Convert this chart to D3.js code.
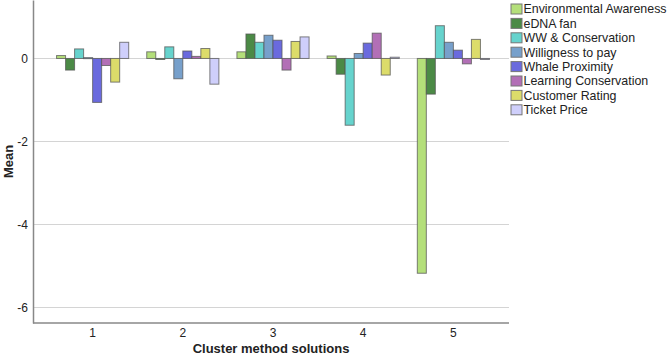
<!DOCTYPE html>
<html>
<head>
<meta charset="utf-8">
<script src="https://cdn.jsdelivr.net/npm/d3@7"></script>
<style>
  body { margin: 0; background: #fff; }
  svg { display: block; font-family: "Liberation Sans", Arial, sans-serif; }
</style>
</head>
<body>
<svg id="chart" width="669" height="358"></svg>
<script>
// clusters on the x axis
const clusters = ["1", "2", "3", "4", "5"];

const series = ["Environmental Awareness", "eDNA fan", "WW & Conservation", "Willigness to pay",
                "Whale Proximity", "Learning Conservation", "Customer Rating", "Ticket Price"];

const colors = ["#b4df7a", "#4b8a46", "#66d3cd", "#77a0cb", "#6a6ade", "#b26fb6", "#dcdc6a", "#cfcffb"];

// mean per series, one value per cluster
const envAwareness   = [0.07, 0.16, 0.16, 0.06, -5.18];
const ednaFan        = [-0.28, -0.02, 0.59, -0.38, -0.86];
const wwConservation = [0.23, 0.28, 0.39, -1.61, 0.79];
const willingness    = [0.02, -0.49, 0.56, 0.12, 0.39];
const whaleProximity = [-1.06, 0.18, 0.44, 0.37, 0.20];
const learningCons   = [-0.17, 0.05, -0.28, 0.61, -0.13];
const customerRating = [-0.57, 0.24, 0.41, -0.40, 0.46];
const ticketPrice    = [0.39, -0.62, 0.52, 0.03, -0.02];

const yTicks = [0, -2, -4, -6];

const values = [envAwareness, ednaFan, wwConservation, willingness,
                whaleProximity, learningCons, customerRating, ticketPrice];

const svg = d3.select("#chart");

const mLeft = 33, mRight = 509, mTop = 0, mBottom = 323;

const x0 = d3.scaleBand()
    .domain(clusters)
    .range([mLeft + 1, mRight + 3])
    .paddingInner(0.2)
    .paddingOuter(0.25);

const x1 = d3.scaleBand()
    .domain(series)
    .range([0, x0.bandwidth()])
    .padding(0);

const y = d3.scaleLinear()
    .domain([-6.38, 1.41])
    .range([mBottom, mTop]);

const color = d3.scaleOrdinal().domain(series).range(colors);

// gridlines
svg.append("g")
    .selectAll("line")
    .data(yTicks)
    .join("line")
    .attr("x1", mLeft)
    .attr("x2", mRight)
    .attr("y1", d => Math.round(y(d)) + 0.5)
    .attr("y2", d => Math.round(y(d)) + 0.5)
    .attr("stroke", "#d4d4d4")
    .attr("stroke-width", 1);

// bars
const rows = [];
clusters.forEach((c, i) => {
    series.forEach((s, j) => {
        rows.push({cluster: c, series: s, value: values[j][i]});
    });
});

svg.append("g")
    .selectAll("rect")
    .data(rows)
    .join("rect")
    .attr("x", d => x0(d.cluster) + x1(d.series))
    .attr("y", d => y(Math.max(0, d.value)))
    .attr("width", x1.bandwidth())
    .attr("height", d => Math.max(1, Math.abs(y(d.value) - y(0))))
    .attr("fill", d => color(d.series))
    .attr("stroke", "#555")
    .attr("stroke-opacity", 0.75)
    .attr("stroke-width", 1);

// axes
const yAxis = svg.append("g")
    .attr("transform", `translate(${mLeft},0)`)
    .call(d3.axisLeft(y).tickValues(yTicks).tickFormat(d => String(d)).tickSize(0).tickPadding(5));
yAxis.select(".domain").attr("stroke", "#888").attr("stroke-width", 1.5);
yAxis.selectAll("text").attr("font-size", 12).attr("fill", "#222")
    .attr("font-family", "Liberation Sans, Arial, sans-serif");

const xAxis = svg.append("g")
    .attr("transform", `translate(0,${mBottom})`)
    .call(d3.axisBottom(x0).tickSize(0).tickPadding(5));
xAxis.select(".domain").attr("d", `M${mLeft},0H${mRight}`).attr("stroke", "#888").attr("stroke-width", 1.5);
xAxis.selectAll("text").attr("font-size", 12).attr("fill", "#222")
    .attr("font-family", "Liberation Sans, Arial, sans-serif");

// axis titles
svg.append("text")
    .attr("x", (mLeft + mRight) / 2)
    .attr("y", 353)
    .attr("text-anchor", "middle")
    .attr("font-size", 13)
    .attr("font-weight", "bold")
    .attr("fill", "#222")
    .text("Cluster method solutions");

svg.append("text")
    .attr("transform", `translate(13,${(mTop + mBottom) / 2}) rotate(-90)`)
    .attr("text-anchor", "middle")
    .attr("font-size", 13)
    .attr("font-weight", "bold")
    .attr("fill", "#222")
    .text("Mean");

// legend
const legend = svg.append("g")
    .attr("transform", "translate(511,4)")
    .selectAll("g")
    .data(series)
    .join("g")
    .attr("transform", (d, i) => `translate(0,${i * 14.4})`);

legend.append("rect")
    .attr("width", 11)
    .attr("height", 10)
    .attr("fill", d => color(d))
    .attr("stroke", "#777")
    .attr("stroke-width", 1);

legend.append("text")
    .attr("x", 12.5)
    .attr("y", 5)
    .attr("dy", "0.35em")
    .attr("font-size", 12.4)
    .attr("fill", "#222")
    .text(d => d);
</script>
</body>
</html>
